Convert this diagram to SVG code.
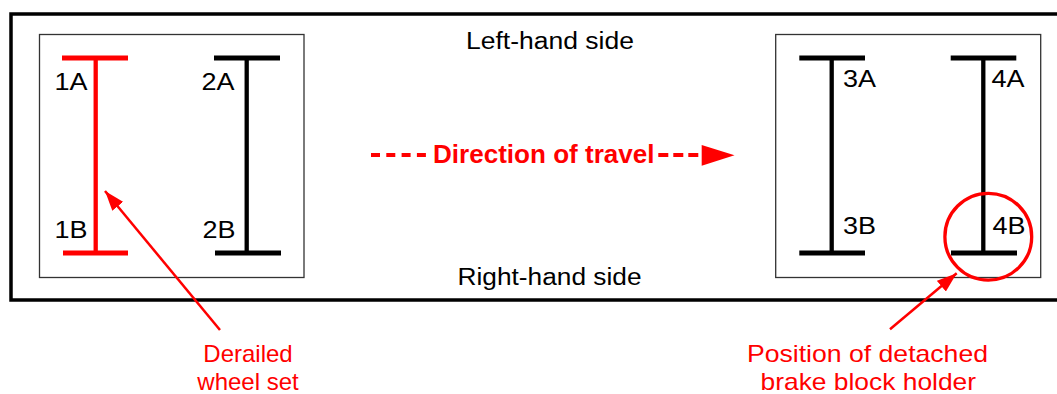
<svg xmlns="http://www.w3.org/2000/svg" width="1057" height="394" viewBox="0 0 1057 394">
  <style>
    .lbl { font-family: "Liberation Sans", Arial, sans-serif; font-size: 23px; fill: #000; }
    .red { font-family: "Liberation Sans", Arial, sans-serif; font-size: 24px; fill: #ff0000; }
    .dir { font-family: "Liberation Sans", Arial, sans-serif; font-size: 25px; font-weight: bold; fill: #ff0000; }
    .box { fill: none; stroke: #333; stroke-width: 1.3; }
    .bar { stroke-width: 5; stroke-linecap: butt; }
    .web { stroke-width: 4.3; }
    .blk { stroke: #000; }
    .rd { stroke: #ff0000; }
    .ptr { stroke: #ff0000; stroke-width: 2.5; fill: none; }
  </style>
  <defs>
    <marker id="ah" markerUnits="userSpaceOnUse" markerWidth="22" markerHeight="14" refX="20" refY="7" orient="auto">
      <path d="M0,0 L20,7 L0,14 Z" fill="#ff0000"/>
    </marker>
  </defs>
  <rect width="1057" height="394" fill="#fff"/>

  <g id="frame">
    <rect x="11" y="14" width="1052" height="286" fill="none" stroke="#000" stroke-width="3.5"/>
    <text class="lbl" x="466" y="48.5" textLength="168" lengthAdjust="spacingAndGlyphs">Left-hand side</text>
    <text class="lbl" x="457.5" y="284.7" textLength="184" lengthAdjust="spacingAndGlyphs">Right-hand side</text>
  </g>

  <g id="bogie-left">
    <rect class="box" x="39.5" y="34.5" width="264.5" height="243"/>
  </g>

  <g id="wheelset-1">
    <line class="bar rd" x1="62" y1="58" x2="128" y2="58"/>
    <line class="web rd" x1="95.7" y1="58" x2="95.7" y2="253"/>
    <line class="bar rd" x1="63" y1="253" x2="128" y2="253"/>
    <text class="lbl" x="54.5" y="89.5" textLength="33" lengthAdjust="spacingAndGlyphs">1A</text>
    <text class="lbl" x="54.5" y="237.7" textLength="33" lengthAdjust="spacingAndGlyphs">1B</text>
  </g>

  <g id="wheelset-2">
    <line class="bar blk" x1="214" y1="58" x2="280" y2="58"/>
    <line class="web blk" x1="246.7" y1="58" x2="246.7" y2="253"/>
    <line class="bar blk" x1="215" y1="253" x2="281" y2="253"/>
    <text class="lbl" x="201.5" y="89.5" textLength="33" lengthAdjust="spacingAndGlyphs">2A</text>
    <text class="lbl" x="202.5" y="237.7" textLength="33" lengthAdjust="spacingAndGlyphs">2B</text>
  </g>

  <g id="bogie-right">
    <rect class="box" x="775.7" y="34.5" width="265" height="243"/>
  </g>

  <g id="wheelset-3">
    <line class="bar blk" x1="799.3" y1="58" x2="865" y2="58"/>
    <line class="web blk" x1="831.7" y1="58" x2="831.7" y2="253"/>
    <line class="bar blk" x1="799.3" y1="253" x2="865" y2="253"/>
    <text class="lbl" x="843" y="87.3" textLength="33" lengthAdjust="spacingAndGlyphs">3A</text>
    <text class="lbl" x="843" y="234.3" textLength="33" lengthAdjust="spacingAndGlyphs">3B</text>
  </g>

  <g id="wheelset-4">
    <line class="bar blk" x1="950.7" y1="58" x2="1016.3" y2="58"/>
    <line class="web blk" x1="983.3" y1="58" x2="983.3" y2="253"/>
    <line class="bar blk" x1="951" y1="253" x2="1017" y2="253"/>
    <text class="lbl" x="991.5" y="87.3" textLength="33" lengthAdjust="spacingAndGlyphs">4A</text>
    <text class="lbl" x="992.5" y="234.3" textLength="33" lengthAdjust="spacingAndGlyphs">4B</text>
  </g>

  <g id="highlight-4B">
    <circle cx="988.3" cy="236.7" r="43.4" fill="none" stroke="#ff0000" stroke-width="3.3"/>
  </g>

  <g id="direction">
    <line x1="371" y1="155" x2="427" y2="155" stroke="#ff0000" stroke-width="4" stroke-dasharray="9 6.3"/>
    <text class="dir" x="433" y="163.3" textLength="221.5" lengthAdjust="spacingAndGlyphs">Direction of travel</text>
    <line x1="658.3" y1="155" x2="702" y2="155" stroke="#ff0000" stroke-width="4" stroke-dasharray="10 5"/>
    <path d="M701.7,145 L734.5,155.3 L701.7,165.7 Z" fill="#ff0000"/>
  </g>

  <g id="label-derailed">
    <text class="red" x="248" y="362.3" text-anchor="middle">Derailed</text>
    <text class="red" x="248" y="390" text-anchor="middle">wheel set</text>
  </g>

  <g id="label-brake">
    <text class="red" x="867.5" y="362.3" text-anchor="middle" textLength="241" lengthAdjust="spacingAndGlyphs">Position of detached</text>
    <text class="red" x="868.3" y="390" text-anchor="middle" textLength="215.5" lengthAdjust="spacingAndGlyphs">brake block holder</text>
  </g>

  <g id="connectors">
    <line class="ptr" x1="220" y1="330" x2="105" y2="191" marker-end="url(#ah)"/>
    <line class="ptr" x1="890" y1="329.3" x2="956.7" y2="273.3" marker-end="url(#ah)"/>
  </g>
</svg>
